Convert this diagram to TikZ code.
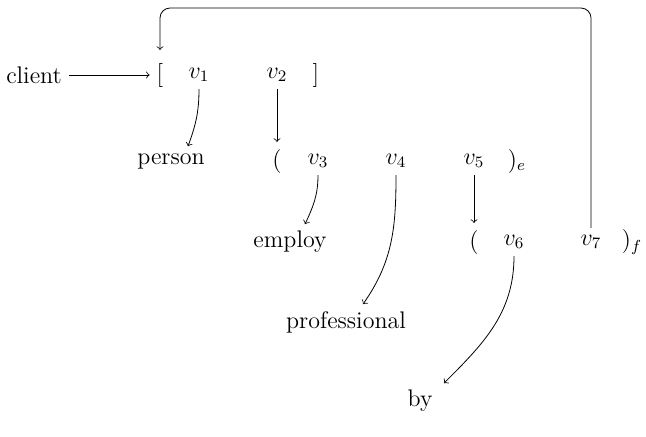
\documentclass[tikz,border=0pt]{standalone}
\usetikzlibrary{calc}
\begin{document}
\begin{tikzpicture}[x=0.5pt,y=-0.5pt,
  lbl/.style={font=\fontsize{12}{14}\selectfont},
  arr/.style={->,line width=0.4pt}]
\useasboundingbox (0,0) rectangle (646,436);
% row 1
\node[lbl] (client) at (34,75) {client};
\node[lbl] (lb) at (160,75) {$[$};
\node[lbl] (v1) at (199,75) {$v_1$};
\node[lbl] (v2) at (277,75) {$v_2$};
\node[lbl] (rb) at (316,75) {$]$};
% row 2
\node[lbl] (person) at (171,161) {person};
\node[lbl] (lp1) at (277,161) {$($};
\node[lbl] (v3) at (318,161) {$v_3$};
\node[lbl] (v4) at (396,161) {$v_4$};
\node[lbl] (v5) at (474,161) {$v_5$};
\node[lbl] (rp1) at (517,161) {$)_e$};
% row 3
\node[lbl] (employ) at (290,242) {employ};
\node[lbl] (lp2) at (474,242) {$($};
\node[lbl] (v6) at (514,242) {$v_6$};
\node[lbl] (v7) at (591,242) {$v_7$};
\node[lbl] (rp2) at (632,242) {$)_f$};
% rows 4,5
\node[lbl] (prof) at (346,322) {professional};
\node[lbl] (by) at (420,401) {by};
\coordinate (top) at (160,8);
% connectors
\draw[arr] (client) -- (lb);
\draw[arr] (v1.south) to[out=-90,in=70] ($(person.north)+(17,0)$);
\draw[arr] (v2.south) -- (lp1.north);
\draw[arr] (v3.south) to[out=-90,in=65] ($(employ.north)+(15,0)$);
\draw[arr] (v4.south) to[out=-90,in=55] ($(prof.north)+(17,0)$);
\draw[arr] (v5.south) -- (lp2.north);
\draw[arr] (v6.south) to[out=-90,in=45] ($(by.north)+(24,0)$);
\draw[arr,rounded corners=5pt] (v7.north) |- (top) -- ($(lb.north)+(0,-6)$);
\end{tikzpicture}
\end{document}
